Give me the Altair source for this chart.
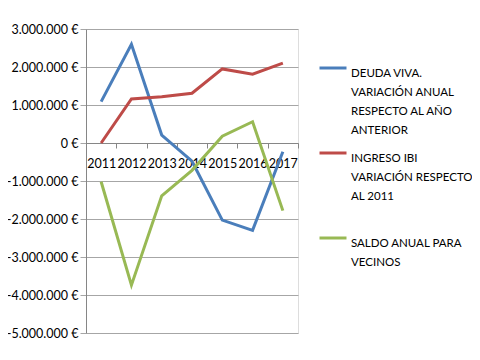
import altair as alt
import pandas as pd

years = ["2011", "2012", "2013", "2014", "2015", "2016", "2017"]
series_names = [
    "DEUDA VIVA.|VARIACIÓN ANUAL|RESPECTO AL AÑO|ANTERIOR",
    "INGRESO IBI|VARIACIÓN RESPECTO|AL 2011| ",
    "SALDO ANUAL PARA|VECINOS",
]
deuda = [1090000, 2600000, 210000, -480000, -2030000, -2300000, -230000]
ingreso = [0, 1160000, 1220000, 1310000, 1950000, 1810000, 2100000]
saldo = [-1020000, -3740000, -1390000, -720000, 180000, 560000, -1780000]
colors = ["#4A7EBB", "#BE4B48", "#98B954"]

rows = []
for name, vals in zip(series_names, [deuda, ingreso, saldo]):
    for y, v in zip(years, vals):
        rows.append({"year": y, "serie": name, "value": v})
df = pd.DataFrame(rows)

chart = alt.Chart(df).mark_line(strokeWidth=3).encode(
    x=alt.X("year:O", title=None,
            scale=alt.Scale(type="band", paddingInner=0, paddingOuter=0),
            axis=alt.Axis(labelAngle=0, offset=-190, tickBand="extent",
                          domainColor="#868686", tickColor="#868686",
                          tickSize=5, labelPadding=9, grid=False,
                          labelFont="Lato", labelFontSize=12.5, labelColor="#000000")),
    y=alt.Y("value:Q", title=None,
            scale=alt.Scale(domain=[-5000000, 3000000], nice=False),
            axis=alt.Axis(values=list(range(-5000000, 3000001, 1000000)),
                          format="$,.0f", grid=True, gridColor="#A6A6A6",
                          domainColor="#868686", tickColor="#A6A6A6", tickSize=6,
                          labelFont="Lato", labelFontSize=12.5, labelColor="#000000",
                          labelPadding=2)),
    color=alt.Color("serie:N",
                    scale=alt.Scale(domain=series_names, range=colors),
                    legend=alt.Legend(title=None, orient="none", legendX=232, legendY=24,
                                      symbolType="stroke", symbolStrokeWidth=3,
                                      symbolSize=729, labelExpr="split(datum.label, '|')",
                                      labelFont="Lato", labelFontSize=11.5, labelOffset=3,
                                      labelBaseline="top", rowPadding=1,
                                      labelColor="#000000", labelLimit=200)),
).properties(width=212, height=304, autosize=alt.AutoSizeParams(type="none"),
             padding={"left": 78, "top": 21, "right": 174, "bottom": 19}).configure_view(
    stroke=None
).configure(
    locale=alt.Locale(number=alt.NumberLocale(decimal=",", thousands=".", grouping=[3],
                                              currency=["", " €"], minus="-")),
    style={"guide-label": {"lineHeight": 19}}
)

chart.save("out.html", embed_options={"renderer": "svg", "actions": False})
